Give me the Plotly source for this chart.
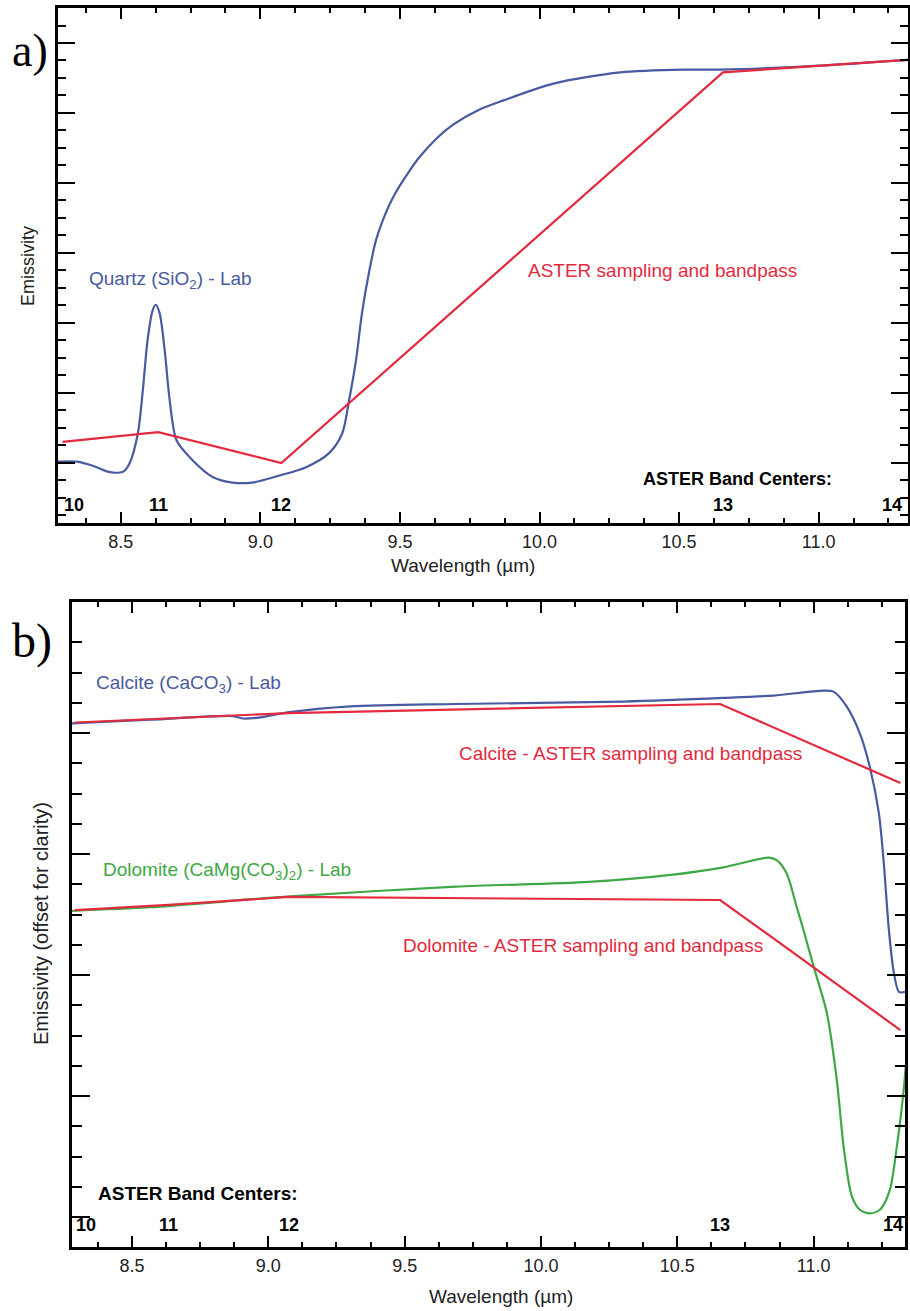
import numpy as np
import plotly.graph_objects as go

# ---------------------------------------------------------------- data
# ASTER TIR band centres (um) and their band numbers
band_centers = [8.291, 8.634, 9.075, 10.657, 11.318]
band_names = ["10", "11", "12", "13", "14"]

# Quartz laboratory spectrum
quartz_wl = [8.275, 8.343, 8.400, 8.450, 8.479, 8.510, 8.532, 8.561, 8.579, 8.596,
             8.614, 8.625, 8.639, 8.657, 8.675, 8.700, 8.757, 8.829, 8.900, 8.971,
             9.068, 9.164, 9.246, 9.293, 9.318, 9.343, 9.364, 9.389, 9.414, 9.450,
             9.471, 9.496, 9.532, 9.568, 9.632, 9.693, 9.780, 9.871, 10.050, 10.289,
             10.525, 10.646, 10.925, 11.320]
quartz_em = [0.701, 0.701, 0.698, 0.694, 0.693, 0.694, 0.700, 0.721, 0.752, 0.788,
             0.809, 0.813, 0.807, 0.781, 0.745, 0.716, 0.702, 0.690, 0.686, 0.686,
             0.691, 0.697, 0.707, 0.721, 0.745, 0.774, 0.807, 0.836, 0.859, 0.879,
             0.888, 0.897, 0.908, 0.918, 0.932, 0.942, 0.952, 0.959, 0.971, 0.979,
             0.981, 0.981, 0.983, 0.988]
# Quartz resampled to the ASTER bands
quartz_aster = [0.715, 0.722, 0.700, 0.979, 0.988]

# Calcite laboratory spectrum (offset)
calcite_wl = [8.279, 8.566, 8.871, 8.908, 8.971, 9.070, 9.301, 9.688, 10.301, 10.669,
              10.853, 11.037, 11.074, 11.121, 11.169, 11.206, 11.239, 11.257, 11.276,
              11.294, 11.313, 11.335]
calcite_em = [1.008, 1.011, 1.014, 1.012, 1.013, 1.017, 1.022, 1.024, 1.026, 1.029,
              1.031, 1.035, 1.034, 1.022, 1.000, 0.972, 0.934, 0.893, 0.837,
              0.802, 0.786, 0.786]
calcite_aster = [1.0087, 1.012, 1.0165, 1.024, 0.9587]

# Dolomite laboratory spectrum (offset)
dolomite_wl = [8.279, 8.566, 9.081, 9.688, 10.176, 10.485, 10.669, 10.835, 10.864,
               10.901, 10.938, 10.963, 11.000, 11.048, 11.085, 11.110, 11.140, 11.169,
               11.206, 11.243, 11.279, 11.305, 11.331, 11.342]
dolomite_em = [0.853, 0.856, 0.865, 0.873, 0.877, 0.883, 0.889, 0.897, 0.895,
               0.884, 0.856, 0.837, 0.807, 0.769, 0.713, 0.658, 0.617, 0.606,
               0.603, 0.606, 0.622, 0.658, 0.707, 0.736]
dolomite_aster = [0.8537, 0.858, 0.8645, 0.862, 0.7545]

# ---------------------------------------------------------------- styling
W, H = 910, 1311
BLUE = "#4a5aa0"
RED = "#e42a3e"
GREEN = "#3ea846"
SANS = "Liberation Sans, Arial, sans-serif"
SERIF = "Liberation Serif, Times New Roman, serif"


def fx(px):
    return px / W


def fy(py):
    return 1 - py / H


fig = go.Figure()

lab_line = dict(width=2.2, shape="spline", smoothing=0.8)

# panel a
fig.add_trace(go.Scatter(x=quartz_wl, y=quartz_em, mode="lines",
                         line=dict(lab_line, color=BLUE),
                         xaxis="x", yaxis="y", hoverinfo="skip"))
fig.add_trace(go.Scatter(x=band_centers, y=quartz_aster, mode="lines",
                         line=dict(color=RED, width=2.2),
                         xaxis="x", yaxis="y", hoverinfo="skip"))

# panel b
fig.add_trace(go.Scatter(x=calcite_wl, y=calcite_em, mode="lines",
                         line=dict(lab_line, color=BLUE),
                         xaxis="x2", yaxis="y2", hoverinfo="skip"))
fig.add_trace(go.Scatter(x=dolomite_wl, y=dolomite_em, mode="lines",
                         line=dict(lab_line, color=GREEN),
                         xaxis="x2", yaxis="y2", hoverinfo="skip"))
fig.add_trace(go.Scatter(x=band_centers, y=calcite_aster, mode="lines",
                         line=dict(color=RED, width=2.2),
                         xaxis="x2", yaxis="y2", hoverinfo="skip"))
fig.add_trace(go.Scatter(x=band_centers, y=dolomite_aster, mode="lines",
                         line=dict(color=RED, width=2.2),
                         xaxis="x2", yaxis="y2", hoverinfo="skip"))

frame = dict(showline=True, linecolor="black", linewidth=3, mirror="allticks",
             ticks="inside", tickcolor="black", tickwidth=2, showgrid=False,
             zeroline=False, fixedrange=True)

xcommon = dict(frame, dtick=0.5, tick0=0, tickformat=".1f", ticklen=11,
               tickfont=dict(family=SANS, size=18, color="#222"),
               minor=dict(dtick=0.125, tick0=0, ticklen=5, tickwidth=2,
                          tickcolor="black", ticks="inside"))

fig.update_layout(
    width=W, height=H, autosize=False,
    margin=dict(l=0, r=0, t=0, b=0),
    paper_bgcolor="white", plot_bgcolor="white",
    showlegend=False,
    xaxis=dict(xcommon, domain=[fx(58), fx(908)], range=[8.275, 11.32], anchor="y"),
    yaxis=dict(frame, domain=[fy(523), fy(8)], range=[0.6571, 1.025], anchor="x",
               showticklabels=False, tickvals=[0.70, 0.75, 0.80, 0.85, 0.90, 0.95, 1.0],
               ticklen=17,
               minor=dict(tickvals=list(np.arange(0.6625, 1.03, 0.0125)), ticklen=8,
                          tickwidth=2, tickcolor="black", ticks="inside")),
    xaxis2=dict(xcommon, domain=[fx(72), fx(905)], range=[8.28, 11.335], anchor="y2"),
    yaxis2=dict(frame, domain=[fy(1247), fy(602)], range=[0.5752, 1.1083], anchor="x2",
                showticklabels=False, tickvals=[0.6, 0.7, 0.8, 0.9, 1.0],
                ticklen=18,
                minor=dict(tickvals=list(np.arange(0.575, 1.08, 0.025)), ticklen=10,
                           tickwidth=2, tickcolor="black", ticks="inside")),
)

ann = []


def text(s, px, py, color="black", size=19, anchor="left", bold=False,
         family=SANS, angle=0):
    ann.append(dict(text=f"<b>{s}</b>" if bold else s, x=fx(px), y=fy(py),
                    xref="paper", yref="paper", xanchor=anchor, yanchor="middle",
                    showarrow=False, textangle=angle,
                    font=dict(family=family, size=size, color=color)))


# panel a labels
text("a)", 30, 51, size=46, anchor="center", family=SERIF)
text("Quartz (SiO<sub>2</sub>) - Lab", 87, 280, color=BLUE)
text("ASTER sampling and bandpass", 526, 270, color=RED)
text("ASTER Band Centers:", 641, 479, bold=True, size=18)
text("Wavelength (µm)", 463, 566, size=19, anchor="center", color="#222")
text("Emissivity", 28, 266, size=18, anchor="center", angle=-90, color="#222")

# panel b labels
text("b)", 32, 641, size=48, anchor="center", family=SERIF)
text("Calcite (CaCO<sub>3</sub>) - Lab", 94, 684, color=BLUE)
text("Calcite - ASTER sampling and bandpass", 457, 753, color=RED)
text("Dolomite (CaMg(CO<sub>3</sub>)<sub>2</sub>) - Lab", 101, 871, color=GREEN)
text("Dolomite - ASTER sampling and bandpass", 401, 945, color=RED)
text("ASTER Band Centers:", 96, 1193, bold=True, size=19)
text("Wavelength (µm)", 501, 1296, size=19, anchor="center", color="#222")
text("Emissivity (offset for clarity)", 41, 924, size=20, anchor="center", angle=-90,
     color="#222")

# band-number labels placed at the band centres
shifts_a = [12, 0, 0, 0, -15]
shifts_b = [11, 0, 0, 0, -7]
for i, (wl, name) in enumerate(zip(band_centers, band_names)):
    ann.append(dict(text=f"<b>{name}</b>", x=wl, y=fy(505), xref="x", yref="paper",
                    xanchor="center", yanchor="middle", showarrow=False,
                    xshift=shifts_a[i], font=dict(family=SANS, size=18, color="black")))
    ann.append(dict(text=f"<b>{name}</b>", x=wl, y=fy(1225), xref="x2", yref="paper",
                    xanchor="center", yanchor="middle", showarrow=False,
                    xshift=shifts_b[i], font=dict(family=SANS, size=18, color="black")))

fig.update_layout(annotations=ann)

fig.write_html("out.html")
